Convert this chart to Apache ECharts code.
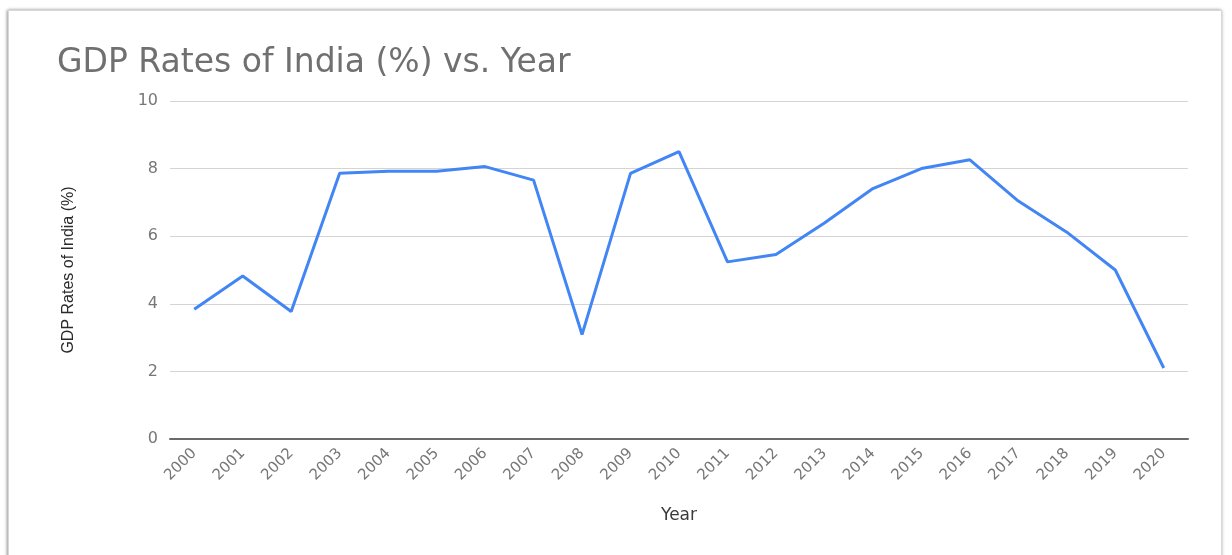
<!DOCTYPE html>
<html>
<head>
<meta charset="utf-8">
<script src="https://cdn.jsdelivr.net/npm/echarts@6/dist/echarts.min.js"></script>
<style>
  html, body { margin: 0; padding: 0; background: #ffffff; }
  #wrap { position: relative; width: 1232px; height: 555px; overflow: hidden; }
  #frame { position: absolute; left: 8px; top: 10px; width: 1212px; height: 560px;
           border: 1px solid #d8d8d8; box-shadow: -1px 0 3px rgba(0,0,0,0.35), 0 0 4px rgba(0,0,0,0.15); background: #fff; }
  #chart { position: absolute; left: 0; top: 0; width: 1232px; height: 555px; }
</style>
</head>
<body>
<div id="wrap">
  <div id="frame"></div>
  <div id="chart"></div>
</div>
<script>
const titleText = 'GDP Rates of India (%) vs. Year';
const xAxisName = 'Year';
const yAxisName = 'GDP Rates of India (%)';
const years = ['2000','2001','2002','2003','2004','2005','2006','2007','2008','2009','2010',
               '2011','2012','2013','2014','2015','2016','2017','2018','2019','2020'];
const gdpRates = [3.84, 4.82, 3.77, 7.86, 7.92, 7.92, 8.06, 7.66, 3.09, 7.86, 8.5,
                  5.24, 5.46, 6.39, 7.41, 8.0, 8.26, 7.04, 6.12, 5.0, 2.1];
const yMin = 0, yMax = 10, yInterval = 2;

const chart = echarts.init(document.getElementById('chart'), null, { renderer: 'canvas' });
chart.setOption({
  backgroundColor: 'transparent',
  animation: false,
  title: {
    text: titleText,
    left: 52, top: 42,
    textStyle: { fontFamily: 'DejaVu Sans', fontSize: 33, fontWeight: 'normal', color: '#707070' }
  },
  grid: { left: 170, right: 44, top: 101, bottom: 116 },
  xAxis: {
    type: 'category',
    data: years,
    boundaryGap: true,
    name: xAxisName,
    nameLocation: 'middle',
    nameGap: 68,
    nameTextStyle: { fontFamily: 'DejaVu Sans', fontSize: 17, color: '#3a3a3a' },
    axisLine: { lineStyle: { color: '#6a6a6a', width: 2 } },
    axisTick: { show: false },
    axisLabel: { rotate: 45, interval: 0, margin: 12, fontFamily: 'DejaVu Sans', fontSize: 15, color: '#777777' }
  },
  yAxis: {
    type: 'value',
    min: yMin, max: yMax, interval: yInterval,
    name: yAxisName,
    nameLocation: 'middle',
    nameRotate: 90,
    nameGap: 93,
    nameTextStyle: { fontFamily: 'Liberation Sans Narrow, Arial Narrow, sans-serif', fontSize: 16, color: '#2a2a2a' },
    axisLine: { show: false },
    axisTick: { show: false },
    axisLabel: { margin: 12, fontFamily: 'DejaVu Sans', fontSize: 16, color: '#777777' },
    splitLine: { lineStyle: { color: '#d4d4d4', width: 1 } }
  },
  series: [{
    type: 'line',
    data: gdpRates,
    symbol: 'none',
    lineStyle: { color: '#4285F4', width: 3 },
    itemStyle: { color: '#4285F4' }
  }]
});
</script>
</body>
</html>
